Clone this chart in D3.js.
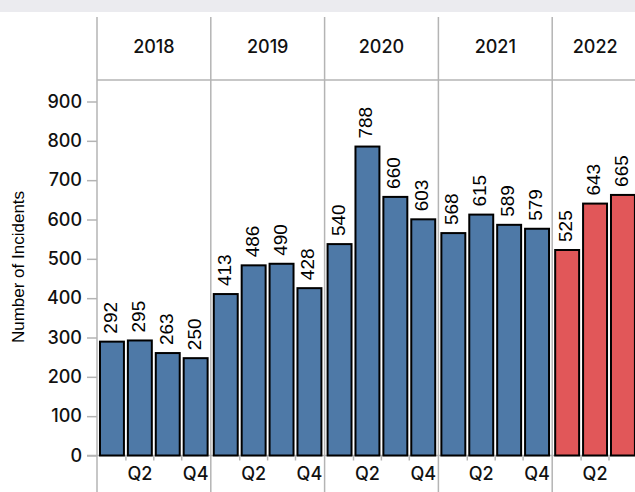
<!DOCTYPE html>
<html>
<head>
<meta charset="utf-8">
<script src="https://cdn.jsdelivr.net/npm/d3@7"></script>
<style>
body { margin: 0; background: #fff; }
svg { display: block; }
</style>
</head>
<body>
<div id="chart"></div>
<script>
var yearLabels = ["2018", "2019", "2020", "2021", "2022"];
var quarterLabels = ["Q1", "Q2", "Q3", "Q4"];
var quartersPerYear = [4, 4, 4, 4, 3];
var incidents = [292, 295, 263, 250, 413, 486, 490, 428, 540, 788, 660, 603, 568, 615, 589, 579, 525, 643, 665];
var shownQuarterLabels = ["Q2", "Q4"];
var highlightYear = "2022";
var yTicks = [0, 100, 200, 300, 400, 500, 600, 700, 800, 900];

var width = 635, height = 492;
var blue = "#4e79a7", red = "#e15759", gridGray = "#b4b4b4";
var numFont = "Inter, Lato, sans-serif";
var lblFont = "'Liberation Sans', Arial, sans-serif";

var plotLeft = 97, headerTop = 17, headerBottom = 80;
var step = 27.9, pad = 2.2;

// build rows
var rows = [];
var k = 0;
yearLabels.forEach(function(yr, i){
    for (var j = 0; j < quartersPerYear[i]; j++){
        rows.push({year: yr, quarter: quarterLabels[j], value: incidents[k]});
        k++;
    }
});

// panel positions
var panels = [];
var px = plotLeft;
yearLabels.forEach(function(yr, i){
    var w = quartersPerYear[i] * step + pad;
    var qs = quarterLabels.slice(0, quartersPerYear[i]);
    var band = d3.scaleBand()
        .domain(qs)
        .range([px + 1, px + 1 + qs.length * step])
        .paddingInner(0.07)
        .paddingOuter(0.035);
    panels.push({year: yr, x: px, w: w, band: band});
    px += w;
});
var panelOf = {};
panels.forEach(function(p){ panelOf[p.year] = p; });

var yScale = d3.scaleLinear()
    .domain([0, 900])
    .range([455.5, 101.5]);

var svg = d3.select("#chart").append("svg")
    .attr("width", width)
    .attr("height", height);

// top strip
svg.append("rect").attr("x", 0).attr("y", 0).attr("width", width).attr("height", 12).attr("fill", "#ebebef");

// year separators
panels.forEach(function(p){
    svg.append("line")
        .attr("x1", p.x).attr("x2", p.x)
        .attr("y1", headerTop).attr("y2", height)
        .attr("stroke", gridGray).attr("stroke-width", 1.5);
});
svg.append("line")
    .attr("x1", plotLeft).attr("x2", width)
    .attr("y1", headerBottom).attr("y2", headerBottom)
    .attr("stroke", gridGray).attr("stroke-width", 1.5);

// year headers
svg.selectAll(".yearLabel")
    .data(panels)
    .enter().append("text")
    .attr("class", "yearLabel")
    .attr("x", function(d){ return d.x + d.w / 2; })
    .attr("y", 48)
    .attr("text-anchor", "middle")
    .attr("dominant-baseline", "middle")
    .style("font-family", numFont).style("font-size", "18px").style("font-weight", 500).style("fill", "#111")
    .text(function(d){ return d.year; });

// y axis
var yAxis = svg.append("g")
    .attr("class", "y axis")
    .attr("transform", "translate(" + plotLeft + ",0)")
    .call(d3.axisLeft(yScale).tickValues(yTicks).tickSize(10).tickPadding(5));
yAxis.select(".domain").remove();
yAxis.selectAll("line").attr("stroke", gridGray).attr("stroke-width", 1.5);
yAxis.selectAll("text")
    .style("font-family", numFont).style("font-size", "18px").style("font-weight", 500).style("fill", "#111");

// bottom axis line
svg.append("line")
    .attr("x1", plotLeft - 10).attr("x2", width)
    .attr("y1", yScale(0)).attr("y2", yScale(0))
    .attr("stroke", gridGray).attr("stroke-width", 1.5);

// bars
svg.selectAll(".bar")
    .data(rows)
    .enter().append("rect")
    .attr("class", "bar")
    .attr("x", function(d){ return panelOf[d.year].band(d.quarter) + 1; })
    .attr("y", function(d){ return yScale(d.value) + 1; })
    .attr("width", function(d){ return panelOf[d.year].band.bandwidth() - 2; })
    .attr("height", function(d){ return yScale(0) - yScale(d.value) - 1; })
    .style("fill", function(d){ return d.year == highlightYear ? red : blue; })
    .style("stroke", "#000")
    .style("stroke-width", 2);

// value labels
svg.selectAll(".valueLabel")
    .data(rows)
    .enter().append("text")
    .attr("class", "valueLabel")
    .attr("transform", function(d){
        var b = panelOf[d.year].band;
        var cx = b(d.quarter) + b.bandwidth() / 2;
        return "translate(" + cx + "," + (yScale(d.value) - 7) + ") rotate(-90)";
    })
    .attr("dominant-baseline", "middle")
    .style("font-family", lblFont).style("font-size", "19px").style("fill", "#000")
    .text(function(d){ return d.value; });

// x ticks between quarters
panels.forEach(function(p){
    var qs = p.band.domain();
    qs.forEach(function(q, i){
        if (i == 0) return;
        var tx = p.band(q) - (p.band.step() - p.band.bandwidth()) / 2;
        svg.append("line")
            .attr("x1", tx).attr("x2", tx)
            .attr("y1", yScale(0)).attr("y2", yScale(0) + 5)
            .attr("stroke", gridGray).attr("stroke-width", 1.5);
    });
    qs.filter(function(q){ return shownQuarterLabels.indexOf(q) >= 0; }).forEach(function(q){
        svg.append("text")
            .attr("x", p.band(q) + p.band.bandwidth() / 2)
            .attr("y", 480)
            .attr("text-anchor", "middle")
            .style("font-family", numFont).style("font-size", "18px").style("font-weight", 500).style("fill", "#111")
            .text(q);
    });
});

// y axis title
svg.append("text")
    .attr("transform", "translate(20," + 267 + ") rotate(-90)")
    .attr("text-anchor", "middle")
    .attr("dominant-baseline", "middle")
    .style("font-family", lblFont).style("font-size", "17px").style("fill", "#000")
    .text("Number of Incidents");
</script>
</body>
</html>
